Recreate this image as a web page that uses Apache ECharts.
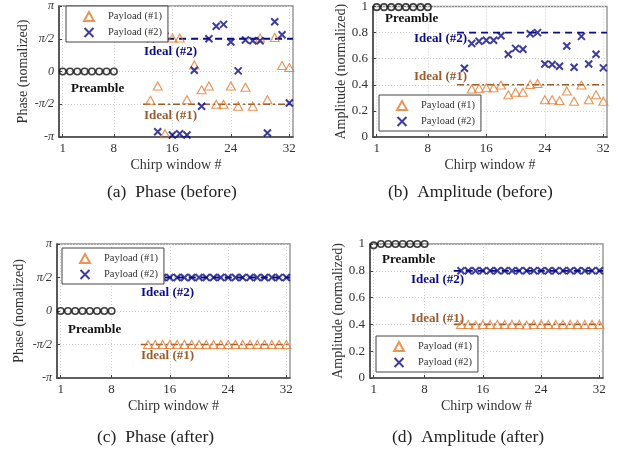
<!DOCTYPE html>
<html><head><meta charset="utf-8">
<script src="https://cdn.jsdelivr.net/npm/echarts@6/dist/echarts.min.js"></script>
<style>html,body{margin:0;padding:0;background:#fff}#c{width:628px;height:455px}</style>
</head><body><div id="c"></div>
<script>
// ---------- data ----------
const xTicks = [1, 8, 16, 24, 32];
const preambleX = [1, 2, 3, 4, 5, 6, 7, 8];
const payloadX = [13, 14, 15, 16, 17, 18, 19, 20, 21, 22, 23, 24, 25, 26, 27, 28, 29, 30, 31, 32];
const idealX = [12, 32.5];

// phase in units of pi
const phaseTicks = [-1, -0.5, 0, 0.5, 1];
const phaseTickLabels = ['-π', '-π/2', '0', 'π/2', 'π'];
const ampTicks = [0, 0.2, 0.4, 0.6, 0.8, 1];

const phasePreamble = [0, 0, 0, 0, 0, 0, 0, 0];
const ampPreambleBefore = [0.995, 0.995, 0.995, 0.995, 0.995, 0.995, 0.995, 0.995];
const ampPreambleAfter = [0.99, 1, 1, 1, 1, 1, 1, 1];

const phaseBefore1 = [-0.44, -0.22, -0.95, 0.51, 0.51, -0.43, 0.10, -0.28, -0.22, -0.50, -0.50, -0.22, -0.53, -0.24, -0.53, 0.51, -0.43, 0.52, 0.09, 0.06];
const phaseBefore2 = [0.50, -0.92, 0.54, -0.97, -0.95, -0.97, 0.02, -0.53, 0.50, 0.69, 0.72, 0.45, 0.01, 0.48, 0.47, 0.47, -0.94, 0.76, 0.56, -0.48];
const ampBefore1 = [null, 0.368, 0.373, 0.378, 0.378, 0.398, 0.323, 0.343, 0.343, 0.403, 0.41, 0.286, 0.286, 0.279, 0.353, 0.274, 0.398, 0.286, 0.323, 0.274];
const ampBefore2 = [0.527, 0.716, 0.734, 0.741, 0.741, 0.776, 0.634, 0.679, 0.672, 0.791, 0.80, 0.56, 0.555, 0.542, 0.697, 0.535, 0.771, 0.56, 0.634, 0.53];

const phaseAfter1 = [-0.5, -0.5, -0.5, -0.5, -0.5, -0.5, -0.5, -0.5, -0.5, -0.5, -0.5, -0.5, -0.5, -0.5, -0.5, -0.5, -0.5, -0.5, -0.5, -0.5];
const phaseAfter2 = [0.5, 0.5, 0.5, 0.5, 0.5, 0.5, 0.5, 0.5, 0.5, 0.5, 0.5, 0.5, 0.5, 0.5, 0.5, 0.5, 0.5, 0.5, 0.5, 0.5];
const ampAfter1 = [0.40, 0.40, 0.395, 0.40, 0.40, 0.40, 0.40, 0.40, 0.40, 0.395, 0.40, 0.40, 0.40, 0.40, 0.40, 0.40, 0.40, 0.40, 0.40, 0.40];
const ampAfter2 = [0.80, 0.80, 0.80, 0.80, 0.80, 0.80, 0.80, 0.80, 0.80, 0.80, 0.80, 0.80, 0.80, 0.80, 0.80, 0.80, 0.80, 0.80, 0.80, 0.80];

const idealPhase1 = -0.5, idealPhase2 = 0.5;
const idealAmp1 = 0.4, idealAmp2 = 0.8;

// ---------- style ----------
const FONT = 'Liberation Serif';
const ORANGE = '#e8782c';
const NAVY = '#0c0c86';
const BROWN = '#9c5b2b';
const CROSS = 'path://M0,0L10,10M10,0L0,10';

const panels = [
  {grid: {left: 59, top: 3, width: 234, height: 134}, phase: true, pre: phasePreamble, p1: phaseBefore1, p2: phaseBefore2, i1: idealPhase1, i2: idealPhase2, yName: 'Phase (nomalized)', yGap: 29,
   legend: {left: 66, top: 6}},
  {grid: {left: 373, top: 3, width: 234, height: 134}, phase: false, pre: ampPreambleBefore, p1: ampBefore1, p2: ampBefore2, i1: idealAmp1, i2: idealAmp2, yName: 'Amplitude (normalized)', yGap: 22,
   legend: {left: 379, top: 95}},
  {grid: {left: 57, top: 244, width: 233, height: 134}, phase: true, pre: phasePreamble, p1: phaseAfter1, p2: phaseAfter2, i1: idealPhase1, i2: idealPhase2, yName: 'Phase (nomalized)', yGap: 31,
   legend: {left: 62, top: 248}},
  {grid: {left: 370, top: 244, width: 233, height: 134}, phase: false, pre: ampPreambleAfter, p1: ampAfter1, p2: ampAfter2, i1: idealAmp1, i2: idealAmp2, yName: 'Amplitude (normalized)', yGap: 22,
   legend: {left: 376, top: 336}}
];

const grids = [], xAxes = [], yAxes = [], series = [], legends = [];
panels.forEach((p, k) => {
  grids.push(Object.assign({show: true, borderColor: '#8c8c8c', borderWidth: 1.3, backgroundColor: '#fff'}, p.grid));
  xAxes.push({
    gridIndex: k, type: 'value', min: 0.5, max: 32.5,
    name: 'Chirp window #', nameLocation: 'middle', nameGap: 21,
    nameTextStyle: {fontFamily: FONT, fontSize: 14, color: '#333'},
    axisLine: {show: true, onZero: false, lineStyle: {color: '#444', width: 1.6}},
    axisTick: {show: true, inside: true, length: 3, customValues: xTicks, lineStyle: {color: '#444'}},
    axisLabel: {customValues: xTicks, fontFamily: FONT, fontSize: 13, color: '#333', margin: 5},
    splitLine: {show: true, lineStyle: {color: '#d0d0d0', type: [1, 2], width: 1}}
  });
  yAxes.push({
    gridIndex: k, type: 'value', min: p.phase ? -1 : 0, max: 1, interval: p.phase ? 0.5 : 0.2,
    name: p.yName, nameLocation: 'middle', nameGap: p.yGap,
    nameTextStyle: {fontFamily: FONT, fontSize: 14, color: '#333'},
    axisLine: {show: true, onZero: false, lineStyle: {color: '#444', width: 1.6}},
    axisTick: {show: true, inside: true, length: 3, lineStyle: {color: '#444'}},
    axisLabel: {fontFamily: FONT, fontSize: p.phase ? 12 : 13, color: '#333', margin: 5,
      fontStyle: p.phase ? 'italic' : 'normal',
      formatter: v => p.phase ? phaseTickLabels[phaseTicks.indexOf(Math.round(v * 2) / 2)] : (v === 0 || v === 1 ? String(v) : v.toFixed(1))},
    splitLine: {show: true, lineStyle: {color: '#d0d0d0', type: [1, 2], width: 1}}
  });
  series.push({
    name: 'Preamble', type: 'scatter', xAxisIndex: k, yAxisIndex: k,
    symbol: 'circle', symbolSize: 6.5,
    itemStyle: {color: 'transparent', borderColor: '#111', borderWidth: 1.6},
    data: preambleX.map((x, i) => [x, p.pre[i]]), z: 3
  });
  series.push({
    name: 'Ideal1', type: 'line', xAxisIndex: k, yAxisIndex: k, symbol: 'none',
    lineStyle: {color: BROWN, width: 1.6, type: [7, 3, 2, 3]},
    data: idealX.map(x => [x, p.i1]), z: 2
  });
  series.push({
    name: 'Ideal2', type: 'line', xAxisIndex: k, yAxisIndex: k, symbol: 'none',
    lineStyle: {color: NAVY, width: 1.8, type: [7, 5]},
    data: idealX.map(x => [x, p.i2]), z: 2
  });
  series.push({
    name: 'Payload (#1)', type: 'scatter', xAxisIndex: k, yAxisIndex: k,
    symbol: 'triangle', symbolSize: [9, 8],
    itemStyle: {color: 'transparent', borderColor: ORANGE, borderWidth: 1.1},
    data: payloadX.map((x, i) => [x, p.p1[i]]).filter(d => d[1] !== null), z: 3
  });
  series.push({
    name: 'Payload (#2)', type: 'scatter', xAxisIndex: k, yAxisIndex: k,
    symbol: CROSS, symbolSize: 7,
    itemStyle: {color: 'transparent', borderColor: NAVY, borderWidth: 2},
    data: payloadX.map((x, i) => [x, p.p2[i]]), z: 4
  });
  legends.push({
    orient: 'vertical', left: p.legend.left, top: p.legend.top,
    data: ['Payload (#1)', 'Payload (#2)'],
    itemWidth: 10, itemHeight: 9, itemGap: 5,
    padding: [5, 6, 4, 17],
    borderColor: '#444', borderWidth: 1, backgroundColor: '#fff',
    textStyle: {fontFamily: FONT, fontSize: 10.5, color: '#333', lineHeight: 11, padding: [0, 0, 0, 9]},
    selectedMode: false, z: 10
  });
});

function txt(x, y, s, color, size, bold) {
  return {type: 'text', x: x, y: y, z: 20,
    style: {text: s, fill: color, font: (bold ? 'bold ' : '') + size + 'px "' + FONT + '"', textAlign: 'left', textVerticalAlign: 'middle'}};
}

const graphics = [
  txt(71, 89, 'Preamble', '#111', 13, true),
  txt(144, 52, 'Ideal (#2)', NAVY, 13, true),
  txt(144, 116, 'Ideal (#1)', BROWN, 13, true),
  txt(385, 19, 'Preamble', '#111', 13, true),
  txt(414, 39, 'Ideal (#2)', NAVY, 13, true),
  txt(414, 77, 'Ideal (#1)', BROWN, 13, true),
  txt(68, 330, 'Preamble', '#111', 13, true),
  txt(141, 293, 'Ideal (#2)', NAVY, 13, true),
  txt(141, 356, 'Ideal (#1)', BROWN, 13, true),
  txt(382, 260, 'Preamble', '#111', 13, true),
  txt(411, 280, 'Ideal (#2)', NAVY, 13, true),
  txt(411, 319, 'Ideal (#1)', BROWN, 13, true),
  txt(107, 192, '(a)  Phase (before)', '#222', 17.5, false),
  txt(388, 192, '(b)  Amplitude (before)', '#222', 17.5, false),
  txt(97, 437, '(c)  Phase (after)', '#222', 17.5, false),
  txt(392, 437, '(d)  Amplitude (after)', '#222', 17.5, false)
];

const chart = echarts.init(document.getElementById('c'), null, {renderer: 'canvas'});
chart.setOption({
  animation: false,
  backgroundColor: '#fff',
  grid: grids, xAxis: xAxes, yAxis: yAxes, series: series, legend: legends,
  graphic: graphics
});
</script></body></html>
